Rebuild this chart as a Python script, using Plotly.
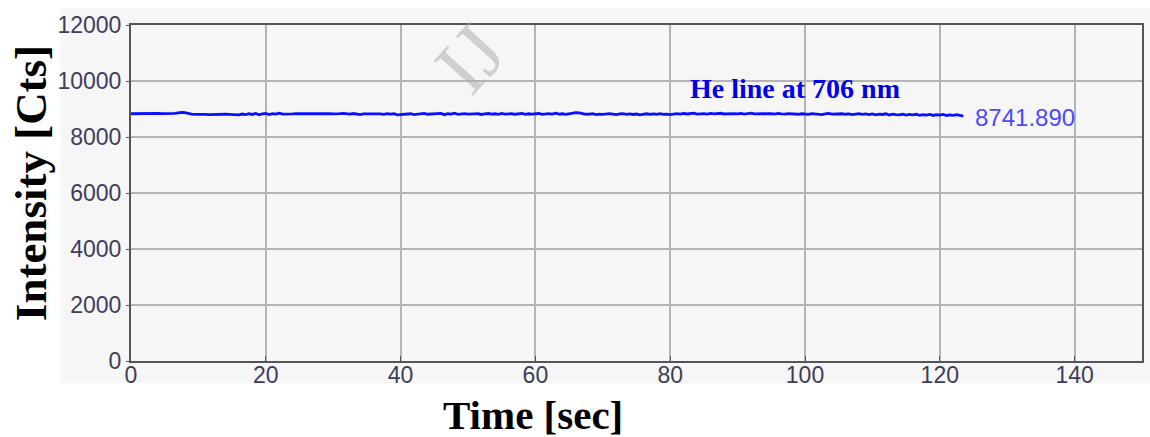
import plotly.graph_objects as go

# He 706 nm line intensity, sampled every 0.5 s
intensity = [
    8830, 8835, 8832, 8838, 8840, 8836, 8834, 8840, 8845, 8838,
    8836, 8840, 8848, 8842, 8860, 8880, 8870, 8840, 8820, 8810,
    8800, 8802, 8805, 8800, 8806, 8810, 8812, 8808, 8812, 8805,
    8800, 8815, 8790, 8820, 8800, 8830, 8805, 8840, 8795, 8825,
    8845, 8800, 8835, 8815, 8850, 8820, 8830, 8838, 8825, 8830,
    8832, 8828, 8835, 8825, 8840, 8830, 8822, 8835, 8828, 8830,
    8826, 8818, 8832, 8845, 8822, 8815, 8838, 8828, 8800, 8825,
    8830, 8815, 8840, 8820, 8828, 8806, 8835, 8818, 8830, 8790,
    8805, 8812, 8820, 8830, 8802, 8816, 8825, 8845, 8812, 8822,
    8830, 8818, 8842, 8798, 8830, 8815, 8850, 8808, 8828, 8835,
    8820, 8812, 8826, 8830, 8805, 8822, 8838, 8815, 8830, 8808,
    8840, 8818, 8825, 8830, 8812, 8826, 8845, 8810, 8830, 8820,
    8818, 8840, 8806, 8826, 8832, 8815, 8848, 8820, 8830, 8812,
    8835, 8856, 8870, 8860, 8826, 8812, 8818, 8830, 8802, 8820,
    8810, 8826, 8832, 8815, 8798, 8822, 8835, 8810, 8828, 8805,
    8820, 8790, 8818, 8830, 8808, 8826, 8812, 8832, 8805, 8815,
    8798, 8822, 8835, 8815, 8840, 8822, 8830, 8850, 8818, 8828,
    8834, 8815, 8845, 8825, 8832, 8848, 8822, 8830, 8816, 8838,
    8826, 8842, 8818, 8832, 8850, 8825, 8830, 8815, 8840, 8822,
    8835, 8820, 8845, 8828, 8816, 8838, 8826, 8832, 8812, 8830,
    8825, 8808, 8832, 8818, 8828, 8800, 8826, 8840, 8815, 8822,
    8805, 8830, 8812, 8826, 8798, 8820, 8835, 8810, 8822, 8802,
    8825, 8790, 8818, 8805, 8830, 8785, 8815, 8800, 8792, 8812,
    8780, 8805, 8790, 8812, 8775, 8800, 8785, 8808, 8770, 8795,
    8782, 8805, 8768, 8790, 8775, 8795, 8760,
]
last_value = 8741.890
intensity.append(last_value)
sample_step = 0.5
time_s = [i * sample_step for i in range(len(intensity))]

x_ticks = [0, 20, 40, 60, 80, 100, 120, 140]
y_ticks = [0, 2000, 4000, 6000, 8000, 10000, 12000]

tick_font = dict(family="Liberation Sans, Arial, sans-serif", size=23, color="#3d3d5c")
serif_bold = "Liberation Serif, Times New Roman, serif"

fig = go.Figure()
fig.add_trace(go.Scatter(
    x=time_s, y=intensity, mode="lines",
    line=dict(color="#0a10ff", width=2.8),
    hoverinfo="skip", showlegend=False,
))

# grey instrument panel behind the plot area
fig.add_shape(type="rect", xref="paper", yref="paper",
              x0=-0.07, x1=1.01, y0=-0.066, y1=1.05,
              fillcolor="#f6f6f6", line_width=0, layer="below")

fig.add_annotation(x=time_s[-1], y=last_value, xref="x", yref="y",
                   text=f"{last_value:.3f}", showarrow=False,
                   xanchor="left", xshift=10, yshift=-1,
                   font=dict(family="Liberation Sans, Arial, sans-serif", size=24, color="#4a4aff"))
fig.add_annotation(x=98.5, y=9750, xref="x", yref="y",
                   text="<b>He line at 706 nm</b>", showarrow=False,
                   xanchor="center", yanchor="middle",
                   font=dict(family=serif_bold, size=28, color="#0000ee"))
# faint publisher watermark
fig.add_annotation(x=0.335, y=0.9, xref="paper", yref="paper",
                   text="IJ", showarrow=False, textangle=-48,
                   xanchor="center", yanchor="middle",
                   font=dict(family=serif_bold, size=80, color="rgba(175,175,175,0.55)"))

# axis titles
fig.add_annotation(x=0.398, y=-0.16, xref="paper", yref="paper",
                   text="<b>Time [sec]</b>", showarrow=False,
                   xanchor="center", yanchor="middle",
                   font=dict(family=serif_bold, size=41, color="#000000"))
fig.add_annotation(x=-0.0987, y=0.53, xref="paper", yref="paper",
                   text="<b>Intensity [Cts]</b>", showarrow=False, textangle=-90,
                   xanchor="center", yanchor="middle",
                   font=dict(family=serif_bold, size=45, color="#000000"))

fig.update_xaxes(
    range=[0, 150], tickvals=x_ticks, ticktext=[str(v) for v in x_ticks],
    tickfont=tick_font, ticklabelstandoff=-8,
    showgrid=True, gridcolor="#b4b4b4", gridwidth=1.6,
    showline=True, linecolor="#555555", linewidth=2, mirror=True,
    ticks="inside", ticklen=5, tickcolor="#555555", zeroline=False,
)
fig.update_yaxes(
    range=[0, 12000], tickvals=y_ticks, ticktext=[str(v) for v in y_ticks],
    tickfont=tick_font,
    showgrid=True, gridcolor="#b4b4b4", gridwidth=1.6,
    showline=True, linecolor="#555555", linewidth=2, mirror=True,
    ticks="outside", ticklen=3, tickcolor="#555555", zeroline=False,
)

fig.update_layout(
    width=1150, height=437,
    margin=dict(l=131, r=6, t=25, b=76),
    paper_bgcolor="#ffffff", plot_bgcolor="#f6f6f6",
)

fig.write_html("out.html")
